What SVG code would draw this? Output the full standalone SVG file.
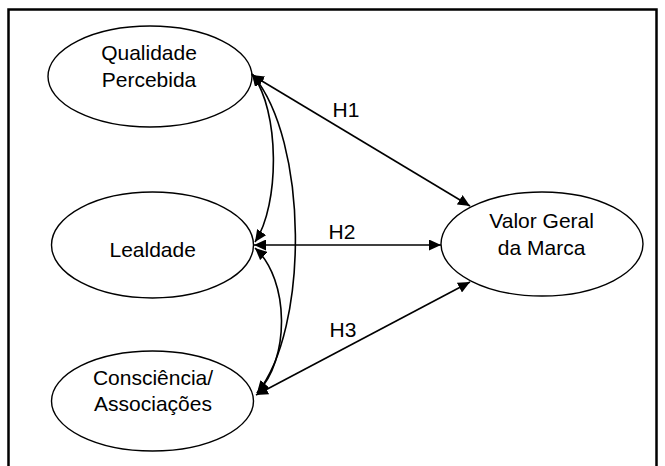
<svg xmlns="http://www.w3.org/2000/svg" width="665" height="466" viewBox="0 0 665 466">
<style>
.node ellipse{fill:#fff;stroke:#000;stroke-width:1.4}
text{font-family:"Liberation Sans",Arial,sans-serif;font-size:21px;fill:#000;text-anchor:middle}
.conn path{fill:none;stroke:#000;stroke-width:1.6;marker-start:url(#ah);marker-end:url(#ah)}
</style>
<defs>
<marker id="ah" viewBox="0 0 12 11" refX="12" refY="5.5" markerWidth="12" markerHeight="11" markerUnits="userSpaceOnUse" orient="auto-start-reverse">
<path d="M0,0 L12,5.5 L0,11 z" fill="#000"/>
</marker>
</defs>
<rect x="8.5" y="9.5" width="648" height="470" fill="#fff" stroke="#000" stroke-width="2.5"/>
<g id="n-qualidade" class="node">
<ellipse cx="150" cy="76.5" rx="102" ry="50.5"/>
<text x="149" y="60">Qualidade</text>
<text x="149" y="87">Percebida</text>
</g>
<g id="n-lealdade" class="node">
<ellipse cx="152.5" cy="245" rx="101" ry="53"/>
<text x="152.7" y="257">Lealdade</text>
</g>
<g id="n-consciencia" class="node">
<ellipse cx="152.5" cy="401" rx="101" ry="50"/>
<text x="153" y="385">Consciência/</text>
<text x="153" y="411">Associações</text>
</g>
<g id="n-valor" class="node">
<ellipse cx="542" cy="244" rx="101" ry="52"/>
<text x="541.6" y="228">Valor Geral</text>
<text x="541.6" y="255">da Marca</text>
</g>
<g id="connectors" class="conn">
<path d="M252,75 L470,206"/>
<path d="M254,245 L441,245"/>
<path d="M256,395 L470,282"/>
<path d="M252,74 C280,110 280,205 255,242"/>
<path d="M252,74 C309,140 309,330 257,393"/>
<path d="M255,248 C290,280 290,360 257,393"/>
</g>
<g id="labels">
<text x="346" y="117">H1</text>
<text x="342" y="239">H2</text>
<text x="343" y="337">H3</text>
</g>
</svg>
